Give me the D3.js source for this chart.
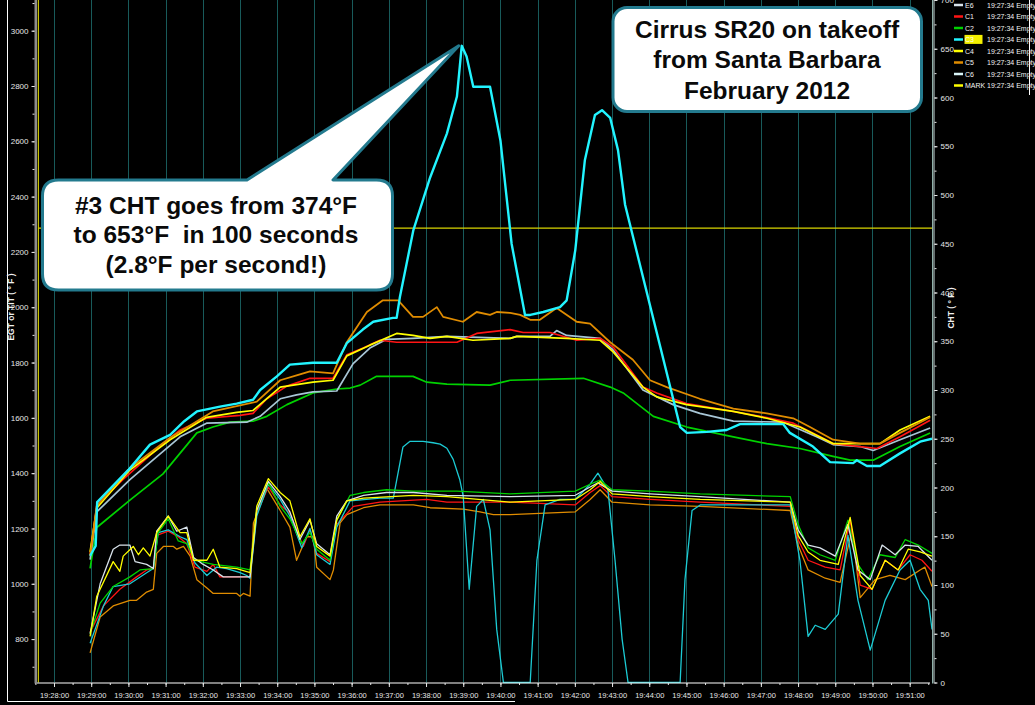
<!DOCTYPE html>
<html><head><meta charset="utf-8">
<script src="https://cdn.jsdelivr.net/npm/d3@7"></script>
<style>
html,body{margin:0;padding:0;background:#000;overflow:hidden}
svg{display:block}
</style></head><body>
<svg id="chart" width="1035" height="705"></svg>
<script>
// ---------- DATA (time = minutes after 19:00, values in °F) ----------
const timeTicks = d3.range(28, 52);              // 19:28:00 .. 19:51:00
const timeMinor = d3.range(27.5, 51.6, 0.5);
const leftTicks = d3.range(800, 3001, 200);       // EGT or TIT axis
const leftMinor = d3.range(700, 3101, 100);
const rightTicks = d3.range(0, 701, 50);          // CHT axis
const rightMinor = d3.range(0, 701, 25);
const legendNames = ["E6", "C1", "C2", "C3", "C4", "C5", "C6", "MARK"];
const legendStamp = "19:27:34 Empty";
const markTime = 27.58;     // vertical marker
const markLevel = 466;      // horizontal marker (CHT axis)
const titleLines = ["Cirrus SR20 on takeoff", "from Santa Barbara", "February 2012"];
const calloutLines = ["#3 CHT goes from 374°F", "to 653°F  in 100 seconds", "(2.8°F per second!)"];

// EGT (left axis)
const e1 = [[28.97,825],[29.33,920],[29.77,980],[30.22,1025],[30.49,1050],[30.67,1055],[30.76,1175],[31.07,1190],[31.34,1170],[31.57,1145],[31.79,1060],[32.11,1045],[32.28,1070],[32.46,1025],[33.27,1025],[33.45,1255],[33.76,1350],[34.08,1285],[34.34,1255],[34.70,1135],[34.88,1195],[35.06,1110],[35.42,1080],[35.60,1215],[36.05,1280],[36.76,1295],[38.02,1305],[38.56,1295],[40.26,1295],[42.01,1285],[42.41,1330],[42.68,1355],[43.0,1315],[44.02,1305],[45.37,1295],[47.79,1280],[48.0,1160],[48.27,1085],[48.73,1060],[49.13,1050],[49.40,1230],[49.67,995],[49.99,980],[50.34,1085],[50.69,1050],[51.01,1105],[51.33,1085],[51.60,1045]];
const e2 = [[28.97,820],[29.24,930],[29.59,990],[30.04,1025],[30.31,1050],[30.67,1055],[30.80,1185],[31.07,1235],[31.34,1155],[31.57,1145],[31.79,1085],[32.28,1070],[32.91,1060],[33.27,1050],[33.45,1265],[33.76,1365],[34.08,1280],[34.34,1235],[34.66,1145],[34.88,1185],[35.06,1125],[35.42,1085],[35.60,1230],[35.96,1320],[36.32,1330],[36.94,1340],[37.66,1335],[38.83,1335],[40.26,1325],[42.01,1335],[42.41,1360],[42.68,1375],[43.0,1340],[44.02,1335],[45.37,1325],[47.79,1315],[48.0,1215],[48.27,1130],[48.59,1105],[49.0,1085],[49.34,1230],[49.61,1070],[49.88,1015],[50.20,1105],[50.61,1095],[50.88,1160],[51.23,1140],[51.60,1110]];
const e3 = [[28.97,785],[29.33,920],[29.59,990],[30.04,1000],[30.49,1040],[30.67,1055],[30.80,1185],[31.07,1195],[31.39,1170],[31.57,1160],[31.79,1075],[32.11,1030],[32.37,1060],[32.64,1055],[33.0,1040],[33.18,1030],[33.27,1020],[33.45,1245],[33.76,1360],[34.08,1305],[34.34,1245],[34.66,1130],[34.88,1200],[35.06,1105],[35.42,1070],[35.60,1205],[35.96,1300],[36.76,1310],[37.12,1310],[37.38,1495],[37.57,1515],[37.92,1515],[38.19,1510],[38.38,1505],[38.56,1490],[38.73,1450],[38.91,1375],[39.0,1315],[39.16,980],[39.36,1280],[39.54,1305],[39.72,1195],[39.90,835],[40.08,643],[40.80,643],[40.98,1085],[41.20,1285],[41.60,1305],[42.01,1305],[42.41,1360],[42.62,1400],[42.89,1340],[43.08,1085],[43.27,800],[43.43,643],[44.83,643],[44.96,1015],[45.15,1265],[45.37,1285],[47.79,1285],[48.05,1085],[48.27,810],[48.46,850],[48.73,835],[49.08,890],[49.34,1175],[49.61,940],[49.94,760],[50.34,940],[50.74,1050],[51.01,1085],[51.28,980],[51.50,940],[51.60,835]];
const e4 = [[28.97,810],[29.15,955],[29.59,1080],[29.77,1045],[29.86,1100],[30.13,1135],[30.27,1105],[30.40,1130],[30.58,1100],[30.76,1185],[31.07,1245],[31.39,1185],[31.57,1185],[31.75,1085],[32.11,1085],[32.28,1125],[32.46,1060],[32.91,1055],[33.27,1040],[33.45,1280],[33.76,1380],[34.08,1330],[34.34,1300],[34.61,1170],[34.88,1235],[35.06,1135],[35.42,1100],[35.60,1230],[35.87,1300],[36.32,1310],[37.66,1320],[38.56,1315],[40.26,1295],[42.01,1305],[42.41,1340],[42.68,1370],[43.0,1325],[44.02,1315],[45.37,1305],[47.79,1295],[48.0,1175],[48.27,1115],[48.59,1085],[49.08,1070],[49.40,1240],[49.67,1030],[49.99,980],[50.34,1085],[50.69,1050],[50.96,1125],[51.28,1115],[51.60,1100]];
const e5 = [[28.97,750],[29.24,880],[29.59,920],[30.04,940],[30.22,940],[30.49,970],[30.67,980],[30.76,1110],[30.94,1135],[31.21,1135],[31.30,1125],[31.48,1135],[31.66,1100],[31.84,1015],[32.11,985],[32.28,965],[32.91,965],[33.0,955],[33.09,965],[33.27,955],[33.36,1220],[33.72,1345],[34.08,1265],[34.34,1205],[34.52,1085],[34.79,1170],[34.97,1170],[35.06,1060],[35.42,1015],[35.51,1050],[35.69,1220],[35.87,1250],[36.32,1275],[36.76,1285],[37.66,1285],[38.11,1275],[39.0,1270],[39.45,1260],[39.81,1250],[40.26,1250],[42.01,1260],[42.41,1305],[42.68,1340],[43.0,1295],[44.02,1285],[45.37,1280],[47.79,1265],[48.0,1140],[48.27,1050],[48.73,1020],[49.13,1005],[49.45,1195],[49.67,950],[50.07,1015],[50.47,1030],[50.88,1015],[51.28,1050],[51.41,1060],[51.60,990]];
const e6 = [[28.97,820],[29.24,1000],[29.59,1125],[29.77,1140],[30.04,1140],[30.18,1080],[30.49,1070],[30.67,1055],[30.76,1190],[31.07,1245],[31.30,1190],[31.57,1205],[31.75,1095],[32.01,1070],[32.28,1050],[32.55,1025],[33.27,1025],[33.45,1265],[33.76,1370],[34.08,1315],[34.34,1260],[34.61,1160],[34.88,1230],[35.06,1145],[35.42,1105],[35.60,1245],[35.87,1300],[36.32,1320],[36.94,1330],[37.66,1330],[38.56,1320],[40.26,1315],[42.01,1320],[42.41,1350],[42.62,1365],[43.0,1335],[44.02,1325],[45.37,1315],[47.79,1295],[48.0,1195],[48.27,1140],[48.59,1130],[49.0,1100],[49.34,1215],[49.61,1050],[49.94,1015],[50.26,1140],[50.61,1105],[50.88,1140],[51.23,1135],[51.60,1085]];

// CHT (right axis)
const c1 = [[28.97,131],[29.15,182],[29.85,208],[30.93,245],[31.39,259],[32.10,271],[33.0,274],[33.35,276],[33.72,291],[34.26,304],[34.88,312],[35.5,312],[35.87,336],[36.31,343],[36.76,351],[37.21,349],[38.83,349],[39.36,358],[40.26,362],[40.61,359],[41.33,359],[42.05,351],[42.68,353],[43.03,344],[43.56,317],[43.83,303],[44.20,297],[45.0,286],[45.81,281],[46.98,273],[47.87,266],[48.59,252],[48.94,245],[50.12,240],[50.74,252],[51.55,269]];
const c2 = [[28.97,117],[29.15,159],[30.04,187],[30.93,214],[31.84,256],[32.27,262],[32.73,267],[33.35,268],[33.72,273],[34.26,285],[34.96,297],[35.6,301],[35.96,302],[36.23,305],[36.67,314],[37.65,314],[38.02,308],[38.56,306],[39.72,305],[40.26,310],[42.23,312],[42.95,303],[43.30,297],[44.11,273],[45.01,262],[46.26,252],[47.16,245],[48.05,240],[48.94,232],[49.40,228],[50.02,228],[50.74,242],[51.55,256]];
const c3 = [[28.97,130],[29.12,140],[29.16,185],[30.0,218],[30.58,244],[31.12,254],[31.5,268],[31.84,278],[32.46,283],[32.91,286],[33.35,290],[33.54,300],[33.99,314],[34.34,326],[34.96,328],[35.6,328],[35.87,348],[36.3,362],[36.58,370],[37.11,374],[37.21,374],[37.30,396],[37.66,464],[38.11,518],[38.56,563],[38.83,601],[38.96,653],[39.09,642],[39.27,611],[39.72,611],[40.0,556],[40.3,450],[40.66,377],[40.80,377],[41.15,380],[41.6,385],[41.78,392],[42.01,443],[42.27,536],[42.54,582],[42.73,587],[42.95,579],[43.16,546],[43.35,490],[44.83,262],[45.01,256],[45.55,257],[46.08,259],[46.44,265],[47.6,265],[47.78,256],[48.4,242],[48.86,226],[49.48,225],[49.58,228],[49.85,222],[50.2,222],[50.74,235],[51.28,247],[51.6,250]];
const c4 = [[28.97,134],[29.15,179],[30.04,218],[31.12,249],[32.10,272],[32.91,277],[33.35,279],[34.08,303],[34.96,308],[35.5,310],[35.87,335],[36.49,346],[37.21,358],[37.65,356],[38.11,353],[38.56,355],[39.26,351],[40.26,353],[40.44,355],[41.78,353],[42.68,351],[43.03,339],[43.83,303],[44.20,293],[45.0,285],[46.26,278],[47.16,271],[48.05,262],[48.94,245],[50.20,245],[50.74,259],[51.55,273]];
const c5 = [[28.97,130],[29.15,181],[30.04,220],[31.12,251],[32.27,278],[33.45,288],[34.08,310],[34.52,315],[34.88,319],[35.5,317],[35.87,349],[36.41,380],[36.84,392],[37.25,392],[37.65,375],[37.92,375],[38.29,385],[38.46,375],[38.99,370],[39.36,380],[39.72,377],[39.90,380],[40.26,379],[40.53,377],[40.80,372],[41.06,372],[41.51,384],[42.05,370],[42.41,368],[42.95,349],[43.56,331],[44.02,310],[44.47,303],[45.36,291],[46.26,281],[47.16,276],[47.87,271],[48.32,262],[48.94,249],[49.67,245],[50.20,245],[50.74,256],[51.55,272]];
const c6 = [[28.97,126],[29.15,175],[30.04,208],[31.39,252],[32.10,266],[33.18,267],[33.54,273],[34.08,291],[34.52,295],[34.96,298],[35.6,299],[36.04,327],[36.49,343],[36.94,352],[37.65,353],[38.56,355],[40.26,353],[40.44,355],[41.33,355],[41.51,361],[41.78,356],[42.68,353],[43.03,341],[43.83,300],[44.64,285],[45.36,276],[46.26,268],[47.60,267],[48.50,252],[48.94,244],[49.67,242],[50.02,238],[50.74,249],[51.55,261]];

// ---------- STYLE / LAYOUT ----------
const W = 1035, H = 705;
const plot = {left: 36, right: 932, top: 0, bottom: 682.5};
const COL = {red:"#ff1414", green:"#00d200", cyan:"#22f4ff", cyanDim:"#1ccbd4", yellow:"#ffff00",
             orange:"#e08c00", white:"#d8e2ea", pale:"#a8c6d6", grid:"#185a5a", teal:"#237a8e"};

const svg = d3.select("#chart");
svg.append("rect").attr("width", W).attr("height", H).attr("fill", "#000");

const x = d3.scaleLinear().domain([27.516, 51.6]).range([plot.left, plot.right]);
const yL = d3.scaleLinear().domain([643, 3111]).range([plot.bottom, plot.top]);
const yR = d3.scaleLinear().domain([0, 700]).range([plot.bottom, plot.top]);

const fmtTime = m => "19:" + String(Math.floor(m)).padStart(2, "0") + ":00";
const axisFont = '"Liberation Sans Narrow","Arial Narrow","Liberation Sans",Arial,sans-serif';

// frame lines
svg.append("line").attr("x1", 7.5).attr("x2", 7.5).attr("y1", 0).attr("y2", 701.5).attr("stroke", "#fff").attr("stroke-width", 1);
svg.append("line").attr("x1", 7.5).attr("x2", 515).attr("y1", 701.5).attr("y2", 701.5).attr("stroke", "#fff").attr("stroke-width", 1);
svg.append("line").attr("x1", 1029.5).attr("x2", 1029.5).attr("y1", 0).attr("y2", 95).attr("stroke", "#fff").attr("stroke-width", 1);

// gridlines
svg.append("g").selectAll("line").data(timeTicks).join("line")
  .attr("x1", d => Math.round(x(d)) + 0.5).attr("x2", d => Math.round(x(d)) + 0.5)
  .attr("y1", plot.top).attr("y2", plot.bottom)
  .attr("stroke", COL.grid).attr("stroke-width", 1);

// marker lines
svg.append("line").attr("x1", x(markTime)).attr("x2", x(markTime)).attr("y1", 0).attr("y2", plot.bottom)
  .attr("stroke", "#c8c400").attr("stroke-width", 1.2);
svg.append("line").attr("x1", x(markTime)).attr("x2", plot.right).attr("y1", yR(markLevel)).attr("y2", yR(markLevel))
  .attr("stroke", "#d8d400").attr("stroke-width", 1.4);

// clip
svg.append("clipPath").attr("id", "clip").append("rect")
  .attr("x", plot.left).attr("y", plot.top).attr("width", plot.right - plot.left).attr("height", plot.bottom - plot.top + 1);

const series = [
  {d: e5, y: yL, c: COL.orange, w: 1.3},
  {d: e1, y: yL, c: COL.red, w: 1.3},
  {d: e3, y: yL, c: COL.cyanDim, w: 1.3},
  {d: e2, y: yL, c: COL.green, w: 1.3},
  {d: e6, y: yL, c: COL.white, w: 1.3},
  {d: e4, y: yL, c: COL.yellow, w: 1.3},
  {d: c2, y: yR, c: COL.green, w: 1.7},
  {d: c6, y: yR, c: COL.pale, w: 1.7},
  {d: c1, y: yR, c: COL.red, w: 1.7},
  {d: c4, y: yR, c: COL.yellow, w: 1.7},
  {d: c5, y: yR, c: COL.orange, w: 1.8},
  {d: c3, y: yR, c: COL.cyan, w: 2.4}
];
const gLines = svg.append("g").attr("clip-path", "url(#clip)");
series.forEach(s => {
  const line = d3.line().x(d => x(d[0])).y(d => s.y(d[1]));
  gLines.append("path").datum(s.d).attr("d", line)
    .attr("fill", "none").attr("stroke", s.c).attr("stroke-width", s.w).attr("stroke-linejoin", "round");
});

// ---------- AXES ----------
function styleAxis(g, size) {
  g.select(".domain").remove();
  g.selectAll(".tick line").attr("stroke", "#e8e8e8").attr("stroke-width", 1);
  g.selectAll("text").attr("fill", "#e6e6e6").style("font-family", axisFont).style("font-size", size + "px");
}
// left
svg.append("rect").attr("x", 34.5).attr("y", 0).attr("width", 2.5).attr("height", plot.bottom + 1).attr("fill", "#8c8c8c");
svg.append("g").attr("transform", "translate(34.5,0)")
  .call(d3.axisLeft(yL).tickValues(leftMinor).tickSize(2).tickFormat(""))
  .call(g => styleAxis(g, 8));
svg.append("g").attr("transform", "translate(34.5,0)")
  .call(d3.axisLeft(yL).tickValues(leftTicks).tickSize(3).tickPadding(3).tickFormat(d3.format("d")))
  .call(g => styleAxis(g, 8));
svg.append("text").attr("transform", "translate(14,307) rotate(-90)").attr("text-anchor", "middle")
  .attr("fill", "#f0f0f0").style("font-family", axisFont).style("font-size", "8.5px").style("font-weight", "bold")
  .text("EGT or TIT ( ° F )");
// right
svg.append("line").attr("x1", 932.5).attr("x2", 932.5).attr("y1", 0).attr("y2", plot.bottom + 1).attr("stroke", "#8fb0a8").attr("stroke-width", 1);
svg.append("line").attr("x1", 934).attr("x2", 934).attr("y1", 0).attr("y2", plot.bottom + 1).attr("stroke", "#c8dcdc").attr("stroke-width", 1);
svg.append("g").attr("transform", "translate(934.5,0)")
  .call(d3.axisRight(yR).tickValues(rightMinor).tickSize(2).tickFormat(""))
  .call(g => styleAxis(g, 8));
svg.append("g").attr("transform", "translate(934.5,0)")
  .call(d3.axisRight(yR).tickValues(rightTicks).tickSize(3).tickPadding(3).tickFormat(d3.format("d")))
  .call(g => styleAxis(g, 8));
svg.append("text").attr("transform", "translate(954,308) rotate(-90)").attr("text-anchor", "middle")
  .attr("fill", "#f0f0f0").style("font-family", axisFont).style("font-size", "8.5px").style("font-weight", "bold")
  .text("CHT ( ° F )");
// bottom
svg.append("line").attr("x1", plot.left + 1).attr("x2", plot.right - 2).attr("y1", 683).attr("y2", 683).attr("stroke", "#fff").attr("stroke-width", 1.2);
svg.append("g").attr("transform", "translate(0,683)")
  .call(d3.axisBottom(x).tickValues(timeMinor).tickSize(2).tickFormat(""))
  .call(g => styleAxis(g, 7.5));
svg.append("g").attr("transform", "translate(0,683)")
  .call(d3.axisBottom(x).tickValues(timeTicks).tickSize(4).tickPadding(6).tickFormat(fmtTime))
  .call(g => styleAxis(g, 7.5));

// ---------- LEGEND ----------
const legColors = [COL.white, COL.red, COL.green, COL.cyan, COL.yellow, COL.orange, "#d8f4f8", COL.yellow];
const leg = svg.append("g");
legendNames.forEach((n, i) => {
  const cy = 5 + i * 11.5;
  leg.append("line").attr("x1", 954).attr("x2", 963).attr("y1", cy).attr("y2", cy)
    .attr("stroke", legColors[i]).attr("stroke-width", 2.5);
  if (n === "C3") {
    leg.append("rect").attr("x", 964.5).attr("y", cy - 4.6).attr("width", 18).attr("height", 9).attr("fill", "#f4f000");
  }
  leg.append("text").attr("x", 965).attr("y", cy + 2.6).text(n)
    .attr("fill", n === "C3" ? "#fffff0" : "#f2f2f2").style("font-family", axisFont).style("font-size", "7px");
  leg.append("text").attr("x", 987).attr("y", cy + 2.6).text(legendStamp)
    .attr("fill", "#f2f2f2").style("font-family", axisFont).style("font-size", "7px");
});

// ---------- ANNOTATIONS ----------
const annFont = '"Liberation Sans",Arial,sans-serif';
// callout pointing at the #3 CHT peak
const peak = c3.reduce((a, b) => b[1] > a[1] ? b : a);
const tipX = x(peak[0]) - 3, tipY = yR(peak[1]);
const b = {x0: 42.5, y0: 180, x1: 392.5, y1: 290, r: 16, p0: 247, p1: 333};
const cp = `M${b.x0 + b.r},${b.y0} L${b.p0},${b.y0} L${tipX},${tipY} L${b.p1},${b.y0} L${b.x1 - b.r},${b.y0}
  Q${b.x1},${b.y0} ${b.x1},${b.y0 + b.r} L${b.x1},${b.y1 - b.r} Q${b.x1},${b.y1} ${b.x1 - b.r},${b.y1}
  L${b.x0 + b.r},${b.y1} Q${b.x0},${b.y1} ${b.x0},${b.y1 - b.r} L${b.x0},${b.y0 + b.r} Q${b.x0},${b.y0} ${b.x0 + b.r},${b.y0} Z`;
svg.append("path").attr("d", cp).attr("fill", "#fff").attr("stroke", COL.teal).attr("stroke-width", 3).attr("stroke-linejoin", "round");
calloutLines.forEach((t, i) => {
  svg.append("text").attr("x", 216).attr("y", 214 + i * 29.3).attr("text-anchor", "middle")
    .attr("fill", "#0a0a0a").style("font-family", annFont).style("font-weight", "bold").style("font-size", "24.5px")
    .style("white-space", "pre").text(t);
});
// title box
svg.append("rect").attr("x", 613).attr("y", 7.5).attr("width", 308.5).attr("height", 104).attr("rx", 14).attr("ry", 14)
  .attr("fill", "#fff").attr("stroke", COL.teal).attr("stroke-width", 3);
titleLines.forEach((t, i) => {
  svg.append("text").attr("x", 767).attr("y", 37.5 + i * 30.5).attr("text-anchor", "middle")
    .attr("fill", "#0a0a0a").style("font-family", annFont).style("font-weight", "bold").style("font-size", "24.5px")
    .text(t);
});
</script>
</body></html>
